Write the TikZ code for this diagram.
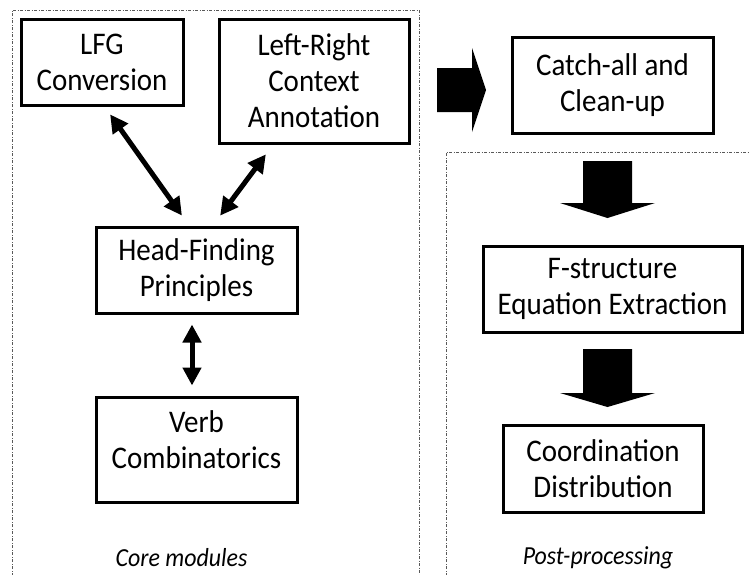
\documentclass[tikz,border=0pt]{standalone}
\usepackage{fontspec}
\setmainfont{Carlito}[FakeStretch=0.92]
\usetikzlibrary{arrows.meta,calc}
\begin{document}
\begin{tikzpicture}[x=1pt,y=-1pt,
  module/.style={draw=black,line width=3pt,fill=white,align=center,inner sep=0pt,
                 font=\fontsize{31.5}{36}\selectfont},
  caption/.style={font=\fontsize{26}{30}\selectfont\itshape},
  panel/.style={draw=black!65,line width=0.9pt,
                dash pattern=on 3pt off 1.5pt on 1pt off 1.5pt},
  link/.style={line width=5pt,{Triangle[length=18pt,width=18pt]}-{Triangle[length=18pt,width=18pt]}},
  block/.style={fill=black,draw=none}]
\useasboundingbox (0,0) rectangle (749,574);

% panels
\draw[panel] (12,590) -- (12,10) -- (419,10) -- (419,590);
\draw[panel] (446,590) -- (446,152) -- (760,152);

% core modules
\node[module,minimum width=162,minimum height=86] (lfg) at (102,62) {LFG\\Conversion};
\node[module,minimum width=190,minimum height=124] (lr) at (314,81) {Left-Right\\Context\\Annotation};
\node[module,minimum width=201,minimum height=86] (head) at (196.5,270) {Head-Finding\\Principles};
\node[module,minimum width=201,minimum height=105] (verb) at (196.5,449.5) {};
\node[align=center,font=\fontsize{31.5}{36}\selectfont,inner sep=0pt] (verbtxt) at (196.5,440) {Verb\\Combinatorics};

% post-processing modules
\node[module,minimum width=201,minimum height=96] (catch) at (612.5,85) {Catch-all and\\Clean-up};
\node[module,minimum width=259,minimum height=86] (fstr) at (612.5,289) {F-structure\\Equation Extraction};
\node[module,minimum width=200,minimum height=87] (coord) at (603,468.5) {Coordination\\Distribution};

% captions
\node[caption] (corecap) at (181.5,558) {Core modules};
\node[caption] (postcap) at (598,558) {Post-processing};

% two-way links between core modules
\draw[link,shorten <=9.7pt,shorten >=12.2pt] ($(lfg.south)+(2.5,0)$) -- ($(head.north)+(-7.5,0)$);
\draw[link,shorten <=12.3pt,shorten >=12.3pt] ($(head.north)+(16.3,0)$) -- ($(lr.south)+(-40.8,0)$);
\draw[link,shorten <=10pt,shorten >=10pt] ($(head.south)+(-4.5,0)$) -- ($(verb.north)+(-4.5,0)$);

% block arrows of the pipeline
\fill[block] (437,68) -- (472,68) -- (472,48) -- (486,90) -- (472,132) -- (472,112) -- (437,112) -- cycle;
\fill[block] (583,161) -- (632,161) -- (632,203) -- (655,203) -- (607.5,218) -- (560,203) -- (583,203) -- cycle;
\fill[block] (583,349) -- (632,349) -- (632,393) -- (655,393) -- (607.5,407) -- (560,393) -- (583,393) -- cycle;
\end{tikzpicture}
\end{document}
